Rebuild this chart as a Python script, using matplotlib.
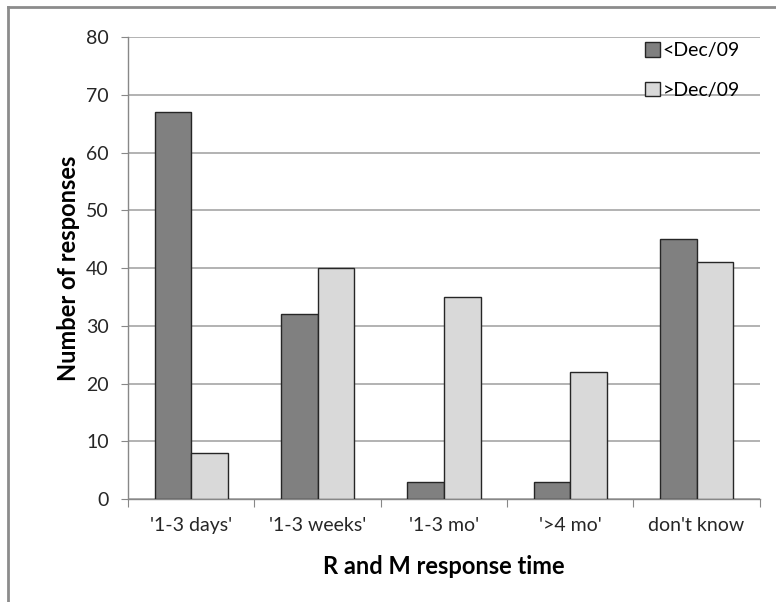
import numpy as np
import matplotlib.pyplot as plt
from matplotlib.lines import Line2D

categories = ["'1-3 days'", "'1-3 weeks'", "'1-3 mo'", "'>4 mo'", "don't know"]
before_dec09 = [67, 32, 3, 3, 45]
after_dec09 = [8, 40, 35, 22, 41]
series_names = ["<Dec/09", ">Dec/09"]

plt.rcParams['font.family'] = ['Lato', 'DejaVu Sans']

fig = plt.figure(figsize=(7.76, 6.02), dpi=100)
ax = fig.add_axes([0.165, 0.171, 0.814, 0.7675])

x = np.arange(len(categories))
w = 0.29
ax.bar(x - w/2, before_dec09, w, color="#808080", edgecolor="#262626", linewidth=1.0,
       label=series_names[0], zorder=3)
ax.bar(x + w/2, after_dec09, w, color="#D9D9D9", edgecolor="#262626", linewidth=1.0,
       label=series_names[1], zorder=3)

ax.set_xlim(-0.5, len(categories) - 0.5)
ax.set_ylim(0, 80)
ax.set_yticks(np.arange(0, 81, 10))
ax.yaxis.grid(True, color="#A6A6A6", linewidth=1.2, zorder=0)

# category boundaries as ticks, labels centred in between
ax.set_xticks(np.arange(len(categories) + 1) - 0.5)
ax.set_xticklabels([])
ax.set_xticks(x, minor=True)
ax.set_xticklabels(categories, minor=True, fontsize=14, color="#262626")
ax.tick_params(axis="x", which="major", length=6, color="#888888", direction="out")
ax.tick_params(axis="x", which="minor", length=0, pad=13)
ax.tick_params(axis="y", length=5, color="#888888", labelsize=14, labelcolor="#262626", pad=9)

for s in ["top", "right"]:
    ax.spines[s].set_visible(False)
for s in ["left", "bottom"]:
    ax.spines[s].set_color("#888888")
    ax.spines[s].set_linewidth(1.0)

ax.set_xlabel("R and M response time", fontsize=17, fontweight="bold", labelpad=15)
ax.set_ylabel("Number of responses", fontsize=17, fontweight="bold", labelpad=4)

ax.legend(loc="upper right", bbox_to_anchor=(0.99, 1.018), frameon=False, fontsize=14,
          handlelength=0.75, handleheight=0.75, handletextpad=0.15, labelspacing=1.15,
          borderaxespad=0.3)

# outer chart frame (partially visible)
fig.add_artist(Line2D([0.0108, 0.0108], [0, 0.988], transform=fig.transFigure,
                      color="#8C8C8C", linewidth=2))
fig.add_artist(Line2D([0.0108, 1.0], [0.988, 0.988], transform=fig.transFigure,
                      color="#8C8C8C", linewidth=2))

fig.savefig("out.png", dpi=100)
